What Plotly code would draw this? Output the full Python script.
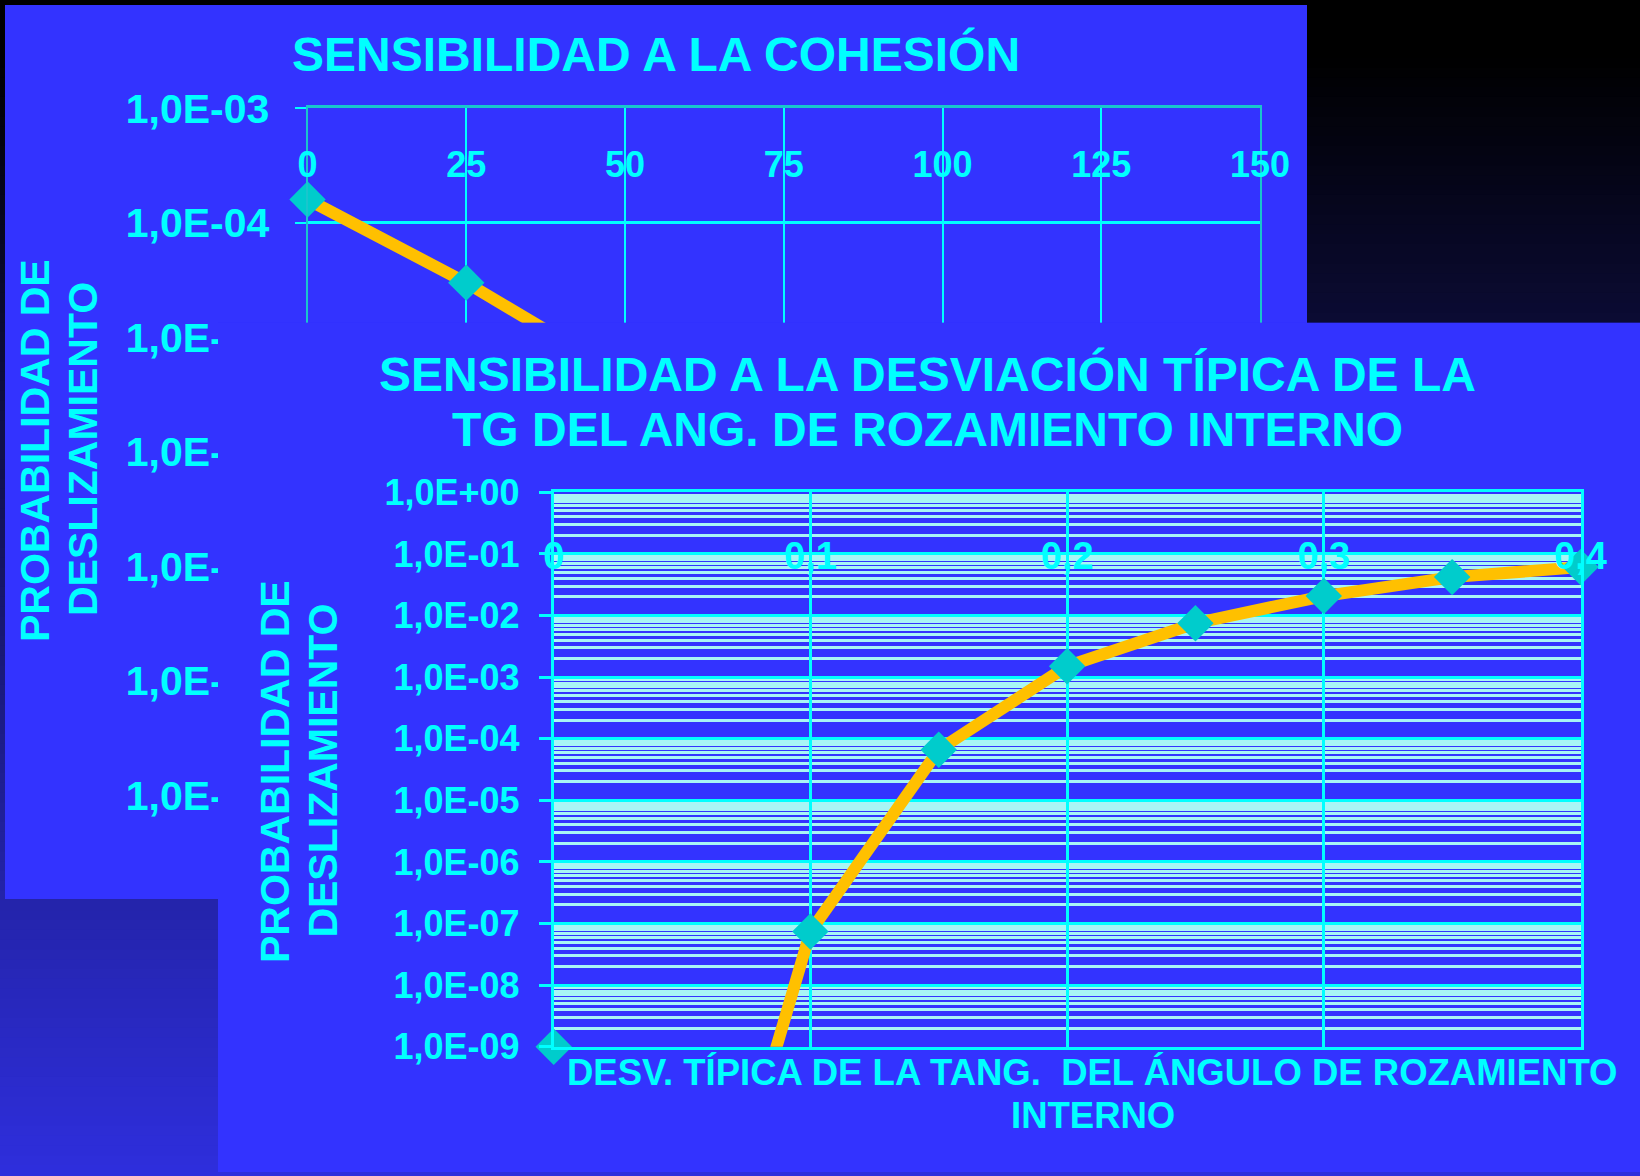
import plotly.graph_objects as go

# ---- Data -------------------------------------------------------------
# Sensibilidad a la cohesión (probabilidad de deslizamiento vs cohesión)
cohesion = [0, 25, 50, 75, 100, 125, 150]
prob_cohesion = [1.6e-4, 3.0e-5, 4.5e-6, 6.0e-7, 8.0e-8, 1.0e-8, 1.3e-9]

# Sensibilidad a la desviación típica de la tg del ángulo de rozamiento
desv_tg = [0, 0.1, 0.15, 0.2, 0.25, 0.3, 0.35, 0.4]
prob_desv = [5e-22, 7.4e-8, 6.6e-5, 1.5e-3, 7.5e-3, 2.07e-2, 4.2e-2, 6.1e-2]

# Tick values / labels
coh_xticks = [0, 25, 50, 75, 100, 125, 150]
coh_xlabels = ["0", "25", "50", "75", "100", "125", "150"]
coh_yticks = [1e-3, 1e-4, 1e-5, 1e-6, 1e-7, 1e-8, 1e-9]
coh_ylabels = ["1,0E-03", "1,0E-04", "1,0E-05", "1,0E-06",
               "1,0E-07", "1,0E-08", "1,0E-09"]
desv_xticks = [0, 0.1, 0.2, 0.3, 0.4]
desv_xlabels = ["0", "0,1", "0,2", "0,3", "0,4"]
desv_yticks = [1e0, 1e-1, 1e-2, 1e-3, 1e-4, 1e-5, 1e-6, 1e-7, 1e-8, 1e-9]
desv_ylabels = ["1,0E+00", "1,0E-01", "1,0E-02", "1,0E-03", "1,0E-04",
                "1,0E-05", "1,0E-06", "1,0E-07", "1,0E-08", "1,0E-09"]
desv_minor = [m * 10.0 ** e for e in range(-9, 0) for m in range(2, 10)]

# ---- Style ------------------------------------------------------------
W, H = 1640, 1176
BLUE = "#3333FF"
CYAN = "#00FFFF"
TEAL = "#00CCCC"
AXTEAL = "#19C6CC"
ORANGE = "#FFC000"
MINOR = "#A8F5F5"
FAM = "Liberation Sans, Arial, sans-serif"


def font(size):
    return dict(family=FAM, size=size, color=CYAN, weight="bold")


def px_x(x):
    return x / W


def px_y(y):
    return 1 - y / H


# markers below the lowest axis value sit on the axis floor
desv_marker_y = [max(v, desv_yticks[-1]) for v in prob_desv]

fig = go.Figure()

# back chart: cohesion
fig.add_trace(go.Scatter(x=cohesion, y=prob_cohesion, xaxis="x", yaxis="y",
                         mode="lines", line=dict(color=ORANGE, width=12),
                         hoverinfo="skip", showlegend=False))
fig.add_trace(go.Scatter(x=cohesion, y=prob_cohesion, xaxis="x2", yaxis="y",
                         mode="markers", cliponaxis=False,
                         marker=dict(symbol="diamond", size=28, color=TEAL,
                                     line=dict(width=0)),
                         showlegend=False))

# front panel (covers the back chart)
fig.add_trace(go.Scatter(x=[0, 1, 1, 0, 0], y=[0, 0, 1, 1, 0], xaxis="x3", yaxis="y3",
                         mode="lines", fill="toself", fillcolor=BLUE,
                         line=dict(width=0), hoverinfo="skip", showlegend=False))

# front chart: desviación típica
fig.add_trace(go.Scatter(x=desv_tg, y=prob_desv, xaxis="x4", yaxis="y4",
                         mode="lines", line=dict(color=ORANGE, width=12),
                         hoverinfo="skip", showlegend=False))
fig.add_trace(go.Scatter(x=desv_tg, y=desv_marker_y, xaxis="x5", yaxis="y4",
                         mode="markers", cliponaxis=False,
                         marker=dict(symbol="diamond", size=28, color=TEAL,
                                     line=dict(width=0)),
                         showlegend=False))

# ---- Background: slide gradient + back panel --------------------------
stops = [(0.0, 0), (0.05, 0), (0.275, 52), (0.765, 170), (1.0, 221)]


def blue_at(t):
    for (t0, b0), (t1, b1) in zip(stops[:-1], stops[1:]):
        if t0 <= t <= t1:
            return b0 + (b1 - b0) * (t - t0) / (t1 - t0)
    return stops[-1][1]


shapes = []
n_bands = 120
for i in range(n_bands):
    t0, t1 = i / n_bands, (i + 1) / n_bands
    b = blue_at((t0 + t1) / 2)
    rg = round(b * 0.21)
    shapes.append(dict(type="rect", xref="paper", yref="paper", layer="below",
                       x0=0, x1=1, y0=1 - t1, y1=1 - t0 + 0.001,
                       fillcolor=f"rgb({rg},{rg},{round(b)})", line=dict(width=0)))
shapes.append(dict(type="rect", xref="paper", yref="paper", layer="below",
                   x0=px_x(5), x1=px_x(1307), y0=px_y(899), y1=px_y(5),
                   fillcolor=BLUE, line=dict(width=0)))

# ---- Axes -------------------------------------------------------------
back_xdom = [px_x(307.5), px_x(1260)]
back_ydom = [px_y(795.3), px_y(108.3)]
front_xdom = [px_x(553.7), px_x(1580.5)]
front_ydom = [px_y(1046.7), px_y(492.3)]

layout_axes = dict(
    xaxis=dict(domain=back_xdom, range=[0, 150], anchor="y", side="top",
               showline=True, linecolor=AXTEAL, linewidth=3, mirror=True,
               showgrid=True, gridcolor=CYAN, gridwidth=2,
               tickmode="array", tickvals=coh_xticks, showticklabels=False,
               ticks="", zeroline=False),
    yaxis=dict(domain=back_ydom, type="log", range=[-9, -3], anchor="x",
               showline=True, linecolor=AXTEAL, linewidth=2, mirror=True,
               ticks="outside", ticklen=11, tickwidth=2, tickcolor=CYAN,
               tickmode="array", tickvals=coh_yticks, ticktext=coh_ylabels,
               tickfont=font(41), ticklabelstandoff=17,
               showgrid=True, gridcolor=CYAN, gridwidth=3, zeroline=False),
    xaxis2=dict(overlaying="x", anchor="free", position=px_y(140), side="bottom",
                range=[0, 150], tickmode="array", tickvals=coh_xticks,
                ticktext=coh_xlabels, tickfont=font(36), showline=False,
                showgrid=False, ticks="", zeroline=False),
    xaxis3=dict(domain=[px_x(218), 1], range=[0, 1], anchor="y3", visible=False,
                fixedrange=True),
    yaxis3=dict(domain=[px_y(1172), px_y(322.7)], range=[0, 1], anchor="x3",
                visible=False, fixedrange=True),
    xaxis4=dict(domain=front_xdom, range=[0, 0.4], anchor="y4",
                showline=True, linecolor=CYAN, linewidth=3, mirror=True,
                showgrid=True, gridcolor=CYAN, gridwidth=2.5,
                tickmode="array", tickvals=desv_xticks, showticklabels=False,
                ticks="", zeroline=False),
    yaxis4=dict(domain=front_ydom, type="log", range=[-9, 0], anchor="x4",
                showline=True, linecolor=CYAN, linewidth=3, mirror=True,
                ticks="outside", ticklen=12, tickwidth=3, tickcolor=CYAN,
                tickmode="array", tickvals=desv_yticks, ticktext=desv_ylabels,
                tickfont=font(36), ticklabelstandoff=12,
                showgrid=True, gridcolor=CYAN, gridwidth=3, zeroline=False,
                minor=dict(tickmode="array", tickvals=desv_minor, showgrid=True,
                           gridcolor=MINOR, gridwidth=2.6, ticks="")),
    xaxis5=dict(overlaying="x4", anchor="free", position=px_y(530), side="bottom",
                range=[0, 0.4], tickmode="array", tickvals=desv_xticks,
                ticktext=desv_xlabels, tickfont=font(38), showline=False,
                showgrid=False, ticks="", zeroline=False),
)

# ---- Titles -----------------------------------------------------------
def note(text, x, y, size, angle=0):
    return dict(text=text, x=px_x(x), y=px_y(y), xref="paper", yref="paper",
                xanchor="center", yanchor="middle", showarrow=False,
                textangle=angle, font=font(size))


annotations = [
    note("SENSIBILIDAD A LA COHESIÓN", 656, 54, 48),
    note("PROBABILIDAD DE", 35, 451, 41, -90),
    note("DESLIZAMIENTO", 83, 449, 41, -90),
    note("SENSIBILIDAD A LA DESVIACIÓN TÍPICA DE LA", 928, 374, 48),
    note("TG DEL ANG. DE ROZAMIENTO INTERNO", 928, 429.5, 48),
    note("PROBABILIDAD DE", 275, 772, 41, -90),
    note("DESLIZAMIENTO", 323.3, 770.3, 41, -90),
    note("DESV. TÍPICA DE LA TANG.\u00a0 DEL ÁNGULO DE ROZAMIENTO", 1092, 1072, 36.5),
    note("INTERNO", 1093, 1115.5, 36.5),
]

fig.update_layout(
    template="none",
    width=W, height=H,
    margin=dict(l=0, r=0, t=0, b=0, pad=0),
    paper_bgcolor="black",
    plot_bgcolor=BLUE,
    showlegend=False,
    shapes=shapes,
    annotations=annotations,
    **layout_axes,
)

fig.write_html("out.html", config=dict(displayModeBar=False))
